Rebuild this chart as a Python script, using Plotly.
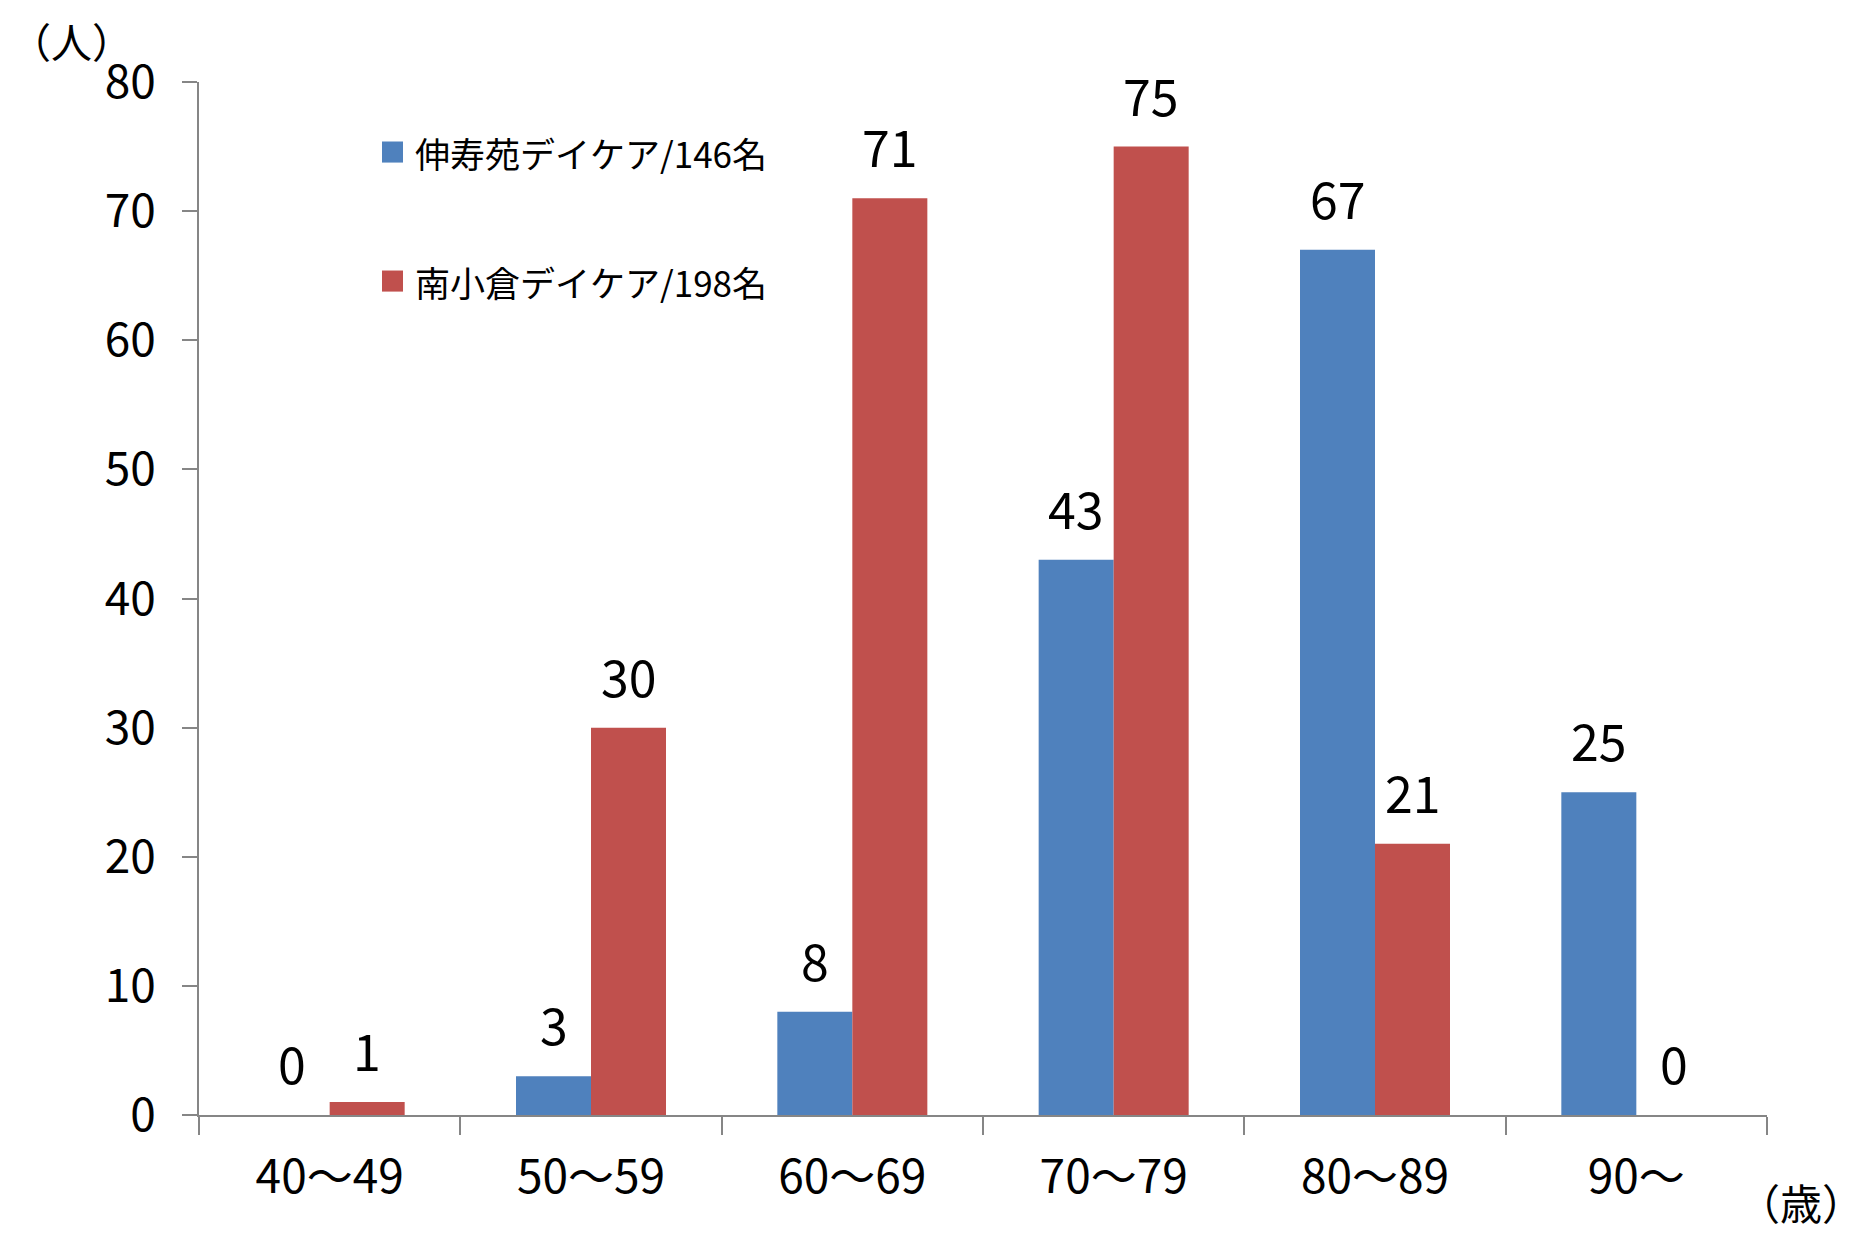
import plotly.graph_objects as go

categories = ["40～49", "50～59", "60～69", "70～79", "80～89", "90～"]
series_names = ["伸寿苑デイケア/146名", "南小倉デイケア/198名"]
shinju = [0, 3, 8, 43, 67, 25]
minami = [1, 30, 71, 75, 21, 0]
y_ticks = [0, 10, 20, 30, 40, 50, 60, 70, 80]

colors = ["#4F81BD", "#C0504D"]
FONT = "Noto Sans CJK JP"

fig = go.Figure()
for name, vals, col in zip(series_names, [shinju, minami], colors):
    fig.add_trace(go.Bar(x=categories, y=vals, name=name, marker_color=col,
                         marker_line_width=0))

# value labels
bw = 0.287
for s, vals in enumerate([shinju, minami]):
    off = -bw / 2 if s == 0 else bw / 2
    for i, v in enumerate(vals):
        fig.add_annotation(x=i + off, y=v, text=str(v), showarrow=False,
                           yanchor="middle", yshift=53,
                           font=dict(family=FONT, size=50, color="black"))

# manual legend
leg_y = [0.9322, 0.8073]
for name, col, yc in zip(series_names, colors, leg_y):
    fig.add_shape(type="rect", xref="paper", yref="paper", x0=0.1167, x1=0.1301,
                  y0=yc - 0.0102, y1=yc + 0.0102, fillcolor=col, line_width=0)
    fig.add_annotation(xref="paper", yref="paper", x=0.1362, y=yc, xanchor="left",
                       yanchor="middle", text=name, showarrow=False,
                       font=dict(family=FONT, size=35, color="black"))

fig.add_annotation(xref="paper", yref="paper", x=-0.1218, y=1.0716, xanchor="left",
                   yanchor="top", text="（人）", showarrow=False,
                   font=dict(family=FONT, size=41, color="black"))
fig.add_annotation(xref="paper", yref="paper", x=1.0631, y=-0.1152, xanchor="right",
                   yanchor="bottom", text="（歳）", showarrow=False,
                   font=dict(family=FONT, size=42, color="black"))

fig.update_layout(
    width=1858, height=1228,
    margin=dict(l=191, r=99, t=74, b=121),
    paper_bgcolor="white", plot_bgcolor="white",
    barmode="group", bargap=0.426, bargroupgap=0,
    font=dict(family=FONT, color="black"),
    showlegend=False,
)
fig.update_xaxes(type="category", showline=True, linecolor="#868686", linewidth=2,
                 ticks="outside", tickson="boundaries", ticklen=18, tickcolor="#868686",
                 tickwidth=2, tickfont=dict(family=FONT, size=46), showgrid=False,
                 ticklabelstandoff=21, range=[-0.5, 5.5])
fig.update_yaxes(range=[0, 80], tickvals=y_ticks, showline=True, linecolor="#868686",
                 linewidth=2, ticks="outside", ticklen=15, tickcolor="#868686", tickwidth=2,
                 tickfont=dict(family=FONT, size=46), showgrid=False, zeroline=False,
                 ticklabelstandoff=17)

fig.write_html("out.html")
